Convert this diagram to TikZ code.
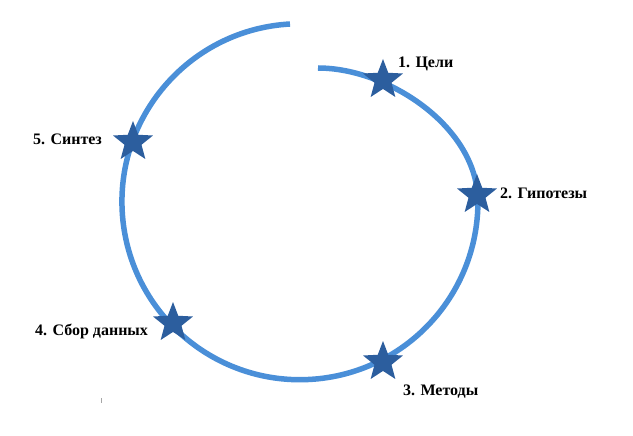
\documentclass[tikz,border=0pt]{standalone}
\usepackage{fontspec}
\setmainfont{Liberation Serif}
\usetikzlibrary{shapes.geometric}
\definecolor{arccol}{HTML}{4A8FD8}
\definecolor{starcol}{HTML}{2C5E9E}
\begin{document}
\begin{tikzpicture}[x=1pt,y=-1pt,
  starnode/.style={star, star points=5, star point ratio=2.35, minimum size=42pt, inner sep=0pt, fill=starcol, draw=none},
  lbl/.style={anchor=base west, inner sep=0pt, font=\fontsize{16}{18}\selectfont\bfseries}]
\useasboundingbox (0,0) rectangle (633,436);
\draw[arccol, line width=5.5pt, line cap=butt]
  (290,24) arc[start angle=266.8, end angle=0, radius=178]
  .. controls (478,127) and (388,68) .. (318,68);
\node[starnode] (s1) at (383,80) {};
\node[starnode] (s2) at (477,195) {};
\node[starnode] (s3) at (383,362) {};
\node[starnode] (s4) at (173,323) {};
\node[starnode] (s5) at (133,142) {};
\node[lbl] (l1) at (398,68) {1. Цели};
\node[lbl] (l2) at (500,199) {2. Гипотезы};
\node[lbl] (l3) at (403,395) {3. Методы};
\node[lbl] (l4) at (35,335) {4. Сбор данных};
\node[lbl] (l5) at (33,145) {5. Синтез};
\draw[gray!70, line width=0.6pt] (101,398) -- (101,403);
\end{tikzpicture}
\end{document}
